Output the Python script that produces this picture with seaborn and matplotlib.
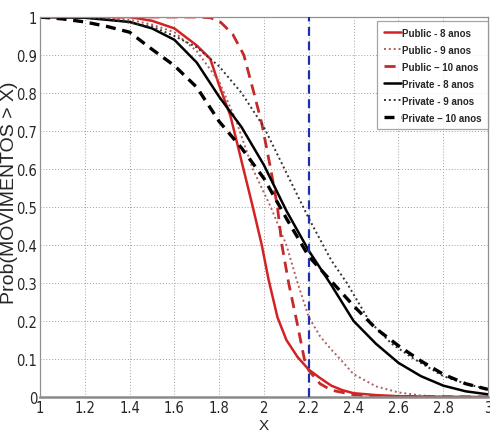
import numpy as np
import pandas as pd
import matplotlib
matplotlib.use("Agg")
import matplotlib.pyplot as plt
import seaborn as sns

# ---------------- data ----------------
pub8_x = [1.0, 1.4, 1.5, 1.6, 1.7, 1.76, 1.8, 1.85, 1.9, 1.95, 1.99, 2.02, 2.06, 2.1, 2.15, 2.2, 2.25, 2.3, 2.35, 2.4, 2.5, 2.6, 2.8, 3.0]
pub8_y = [1.0, 1.0, 0.99, 0.97, 0.925, 0.89, 0.82, 0.74, 0.62, 0.5, 0.4, 0.31, 0.21, 0.15, 0.105, 0.072, 0.05, 0.03, 0.018, 0.01, 0.005, 0.002, 0.0005, 0.0]

pub9_x = [1.0, 1.3, 1.4, 1.5, 1.6, 1.7, 1.8, 1.88, 1.95, 2.03, 2.1, 2.15, 2.2, 2.25, 2.3, 2.34, 2.4, 2.5, 2.6, 2.7, 2.8, 3.0]
pub9_y = [1.0, 0.998, 0.993, 0.98, 0.96, 0.91, 0.83, 0.72, 0.6, 0.5, 0.4, 0.3, 0.21, 0.16, 0.125, 0.1, 0.06, 0.028, 0.012, 0.004, 0.001, 0.0]

pub10_x = [1.0, 1.7, 1.76, 1.8, 1.86, 1.91, 1.955, 1.99, 2.03, 2.06, 2.08, 2.11, 2.146, 2.18, 2.2, 2.25, 2.3, 2.4, 2.5, 3.0]
pub10_y = [1.0, 1.0, 0.998, 0.99, 0.955, 0.9, 0.8, 0.72, 0.6, 0.5, 0.4, 0.3, 0.2, 0.1, 0.07, 0.035, 0.018, 0.006, 0.002, 0.0]

priv8_x = [1.0, 1.2, 1.4, 1.5, 1.6, 1.7, 1.8, 1.9, 2.0, 2.1, 2.2, 2.3, 2.4, 2.5, 2.6, 2.7, 2.8, 2.9, 3.0]
priv8_y = [1.0, 0.998, 0.987, 0.97, 0.94, 0.88, 0.79, 0.71, 0.61, 0.49, 0.385, 0.295, 0.2, 0.14, 0.09, 0.055, 0.03, 0.015, 0.007]

priv9_x = [1.0, 1.2, 1.3, 1.4, 1.5, 1.6, 1.7, 1.8, 1.9, 2.0, 2.1, 2.2, 2.3, 2.37, 2.47, 2.57, 2.67, 2.8, 2.9, 3.0]
priv9_y = [1.0, 0.999, 0.995, 0.985, 0.975, 0.95, 0.92, 0.87, 0.8, 0.71, 0.59, 0.47, 0.36, 0.3, 0.2, 0.14, 0.1, 0.055, 0.035, 0.02]

priv10_x = [1.0, 1.1, 1.2, 1.3, 1.4, 1.5, 1.6, 1.7, 1.8, 1.9, 2.0, 2.1, 2.2, 2.3, 2.4, 2.5, 2.6, 2.7, 2.8, 2.9, 3.0]
priv10_y = [1.0, 0.995, 0.987, 0.975, 0.96, 0.915, 0.872, 0.815, 0.725, 0.655, 0.575, 0.47, 0.37, 0.305, 0.24, 0.18, 0.135, 0.095, 0.06, 0.035, 0.02]

series_labels = ["Public - 8 anos", "Public - 9 anos", "Public \u2013 10 anos",
                 "Private - 8 anos", "Private - 9 anos", "Private \u2013 10 anos"]

threshold_x = 2.2
x_ticks = [1, 1.2, 1.4, 1.6, 1.8, 2, 2.2, 2.4, 2.6, 2.8, 3]
x_tick_labels = ["1", "1.2", "1.4", "1.6", "1.8", "2", "2.2", "2.4", "2.6", "2.8", "3"]
y_ticks = [0, 0.1, 0.2, 0.3, 0.4, 0.5, 0.6, 0.7, 0.8, 0.9, 1]
y_tick_labels = ["0", "0.1", "0.2", "0.3", "0.4", "0.5", "0.6", "0.7", "0.8", "0.9", "1"]

# ---------------- styling ----------------
sns.set_theme(style="white")
plt.rcParams['font.family'] = ['Liberation Sans', 'DejaVu Sans']

fig = plt.figure(figsize=(4.9, 4.35), dpi=100)
ax = fig.add_axes([40/490, 37/435, 448/490, 380/435])

styles = [
    dict(color="#d42222", linestyle="-", linewidth=1.8),
    dict(color="#b06060", linestyle=(0, (1, 1.5)), linewidth=1.4),
    dict(color="#c42a2a", linestyle=(0, (4, 2.5)), linewidth=2.0),
    dict(color="#000000", linestyle="-", linewidth=1.8),
    dict(color="#333333", linestyle=(0, (1, 1.5)), linewidth=1.4),
    dict(color="#000000", linestyle=(0, (3, 2)), linewidth=2.4),
]
xs = [pub8_x, pub9_x, pub10_x, priv8_x, priv9_x, priv10_x]
ys = [pub8_y, pub9_y, pub10_y, priv8_y, priv9_y, priv10_y]

for x, y, lab, st in zip(xs, ys, series_labels, styles):
    df = pd.DataFrame({"x": x, "y": y})
    sns.lineplot(data=df, x="x", y="y", ax=ax, label=lab, sort=True,
                 estimator=None, **st)

ax.axvline(threshold_x, color="#1f2fa8", linestyle=(0, (4, 2.5)), linewidth=1.6, zorder=5)

ax.set_xlim(1, 3)
ax.set_ylim(0, 1)
ax.set_xticks(x_ticks)
ax.set_xticklabels(x_tick_labels)
ax.set_yticks(y_ticks)
ax.set_yticklabels(y_tick_labels)
ax.grid(True, color="#a0a0a0", linestyle=(0, (1, 2)), linewidth=0.7)
ax.tick_params(axis="both", direction="in", length=3, color="#808080",
               labelsize=10.5, pad=2)
for lab in ax.get_xticklabels() + ax.get_yticklabels():
    lab.set_family(['Liberation Sans Narrow', 'DejaVu Sans'])
    lab.set_fontstretch('condensed')
for side in ["left", "top", "right"]:
    ax.spines[side].set_color("#909090")
    ax.spines[side].set_linewidth(0.9)
ax.spines["bottom"].set_color("#8a8a8a")
ax.spines["bottom"].set_linewidth(1.8)

ax.set_xlabel("X", fontsize=11, labelpad=2)
ax.set_ylabel("Prob(MOVIMENTOS > X)", fontsize=14)
ax.yaxis.set_label_coords(-0.049, 0.54)

leg = ax.legend(loc="upper left", bbox_to_anchor=(0.752, 0.99), fontsize=7,
                frameon=True, fancybox=False, handlelength=1.8, handletextpad=0.1,
                borderpad=0.7, labelspacing=0.72, borderaxespad=0)
leg.get_frame().set_edgecolor("#909090")
leg.get_frame().set_linewidth(0.9)
for t in leg.get_texts():
    t.set_fontweight("bold")

fig.savefig("out.png", dpi=100)
